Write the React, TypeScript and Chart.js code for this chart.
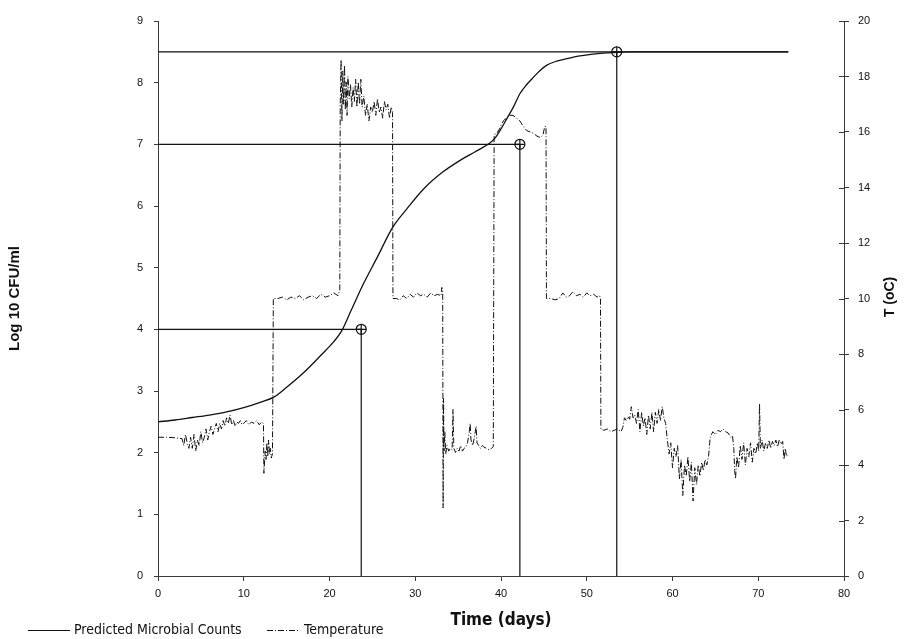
import React, { useEffect, useRef } from 'react';
import { Chart, registerables } from 'chart.js';

Chart.register(...registerables);

// Predicted microbial counts (log10 CFU/ml) vs time (days)
const countDays = [0, 2, 4, 6, 8, 10, 12, 13.5, 15, 17, 19, 20.5, 21.4, 22.5, 24, 25.5, 27.4, 29, 31, 33.2, 35, 37, 38.7, 39.3, 40, 40.7, 41.5, 42.2, 43, 43.8, 44.5, 45.3, 46.5, 47.7, 49, 50.5, 52, 53.5, 55, 56.2, 60, 65, 70, 73.5];
const countLog = [2.5, 2.53, 2.57, 2.61, 2.66, 2.73, 2.82, 2.9, 3.06, 3.3, 3.58, 3.8, 3.97, 4.3, 4.75, 5.15, 5.66, 5.95, 6.28, 6.55, 6.72, 6.88, 7.02, 7.1, 7.25, 7.42, 7.62, 7.82, 7.97, 8.09, 8.19, 8.28, 8.35, 8.39, 8.43, 8.46, 8.48, 8.49, 8.5, 8.5, 8.5, 8.5, 8.5, 8.5];

// Temperature record (oC) vs time (days)
const tempDays = [
  0, 1, 2, 2.8, 3.0, 3.2, 3.4, 3.6, 3.8, 4.0, 4.2, 4.4, 4.6, 4.8, 5.0, 5.2, 5.4, 5.6, 5.8, 6.0, 6.2, 6.4, 6.6, 6.8, 7.0, 7.2, 7.4, 7.6, 7.8, 8.0, 8.2, 8.4, 8.6, 8.8, 9.0, 9.2, 9.4, 9.6, 9.8, 10.0, 10.3, 10.6, 10.9, 11.2, 11.5, 11.8, 12.1, 12.3, 12.35, 12.5, 12.6, 12.7, 12.8, 12.9, 13.0, 13.1, 13.2, 13.35, 13.45,
  14, 14.5, 15, 15.5, 16, 16.5, 17, 17.5, 18, 18.5, 19, 19.5, 20, 20.5, 21.0, 21.2,
  21.25, 21.35, 21.45, 21.55, 21.65, 21.75, 21.85, 21.95, 22.05, 22.15, 22.3, 22.45, 22.6, 22.75, 22.9, 23.05, 23.2, 23.35, 23.5, 23.65, 23.8, 24.0, 24.2, 24.4, 24.6, 24.8, 25.0, 25.2, 25.4, 25.6, 25.8, 26.0, 26.2, 26.4, 26.6, 26.8, 27.0, 27.2, 27.35, 27.4,
  27.8, 28.2, 28.6, 29.0, 29.4, 29.8, 30.2, 30.6, 31.0, 31.4, 31.8, 32.2, 32.6, 33.0, 33.1, 33.2,
  33.25, 33.3, 33.35, 33.45, 33.55, 33.7, 33.9, 34.1, 34.3, 34.4, 34.5, 34.7, 34.9, 35.1, 35.3, 35.5, 35.7, 35.9, 36.1, 36.3, 36.4, 36.5, 36.7, 36.9, 37.1, 37.2, 37.4, 37.6, 37.8, 38.0, 38.3, 38.6, 38.9, 39.1,
  39.2, 39.5, 39.8, 40.1, 40.4, 40.7, 41.0, 41.4, 41.8, 42.2, 42.6, 43.0, 43.4, 43.8, 44.2, 44.6, 44.9, 45.1, 45.25, 45.3,
  45.8, 46.3, 46.8, 47.2, 47.6, 48.0, 48.4, 48.8, 49.2, 49.6, 50.0, 50.4, 50.8, 51.2, 51.5, 51.6,
  51.65, 52.0, 52.4, 52.8, 53.2, 53.6, 54.0, 54.2, 54.4, 54.6, 54.8, 55.0, 55.2, 55.4, 55.6, 55.8, 56.0, 56.2, 56.4, 56.6, 56.8, 57.0, 57.2, 57.4, 57.6, 57.8, 58.0, 58.2, 58.4, 58.6, 58.8, 59.0, 59.2, 59.4, 59.6, 59.8,
  60.0, 60.2, 60.4, 60.6, 60.8, 61.0, 61.2, 61.4, 61.6, 61.8, 62.0, 62.2, 62.4, 62.6, 62.8, 63.0, 63.2, 63.4, 63.6, 63.8, 64.0, 64.2, 64.4, 64.7, 65.0, 65.3, 65.6, 65.9, 66.2, 66.5, 66.8, 67.0,
  67.15, 67.25, 67.35, 67.5, 67.7, 67.9, 68.1, 68.3, 68.5, 68.7, 68.9, 69.1, 69.3, 69.5, 69.7, 69.9, 70.05, 70.15, 70.25, 70.45, 70.65, 70.85, 71.05, 71.25, 71.45, 71.65, 71.85, 72.05, 72.25, 72.45, 72.65, 72.85, 73.0, 73.15, 73.3, 73.45,
];
const tempC = [
  5.0, 5.0, 4.98, 4.95, 4.7, 5.1, 4.8, 4.6, 5.0, 4.6, 5.1, 4.5, 4.9, 4.7, 5.2, 4.8, 5.0, 5.3, 4.9, 5.2, 5.4, 5.1, 5.3, 5.5, 5.2, 5.5, 5.3, 5.6, 5.4, 5.7, 5.5, 5.8, 5.45, 5.6, 5.4, 5.55, 5.5, 5.6, 5.45, 5.5, 5.6, 5.45, 5.55, 5.5, 5.6, 5.45, 5.55, 5.5, 3.7, 4.5, 4.2, 4.8, 4.3, 4.9, 4.4, 4.6, 4.25, 4.4, 10.0,
  10.0, 10.05, 9.95, 10.05, 10.0, 10.1, 9.95, 10.05, 10.1, 10.0, 10.15, 10.05, 10.1, 10.2, 10.1, 10.3,
  17.0, 18.6, 16.4, 18.2, 17.0, 18.4, 16.8, 17.8, 16.6, 18.0, 17.2, 17.7, 16.9, 17.6, 17.1, 17.9, 16.9, 17.8, 17.0, 17.9, 16.9, 17.3, 16.6, 17.0, 16.4, 16.9, 16.7, 17.1, 16.6, 17.2, 16.7, 16.9, 16.5, 17.1, 16.8, 17.0, 16.5, 16.9, 16.7, 10.0,
  10.0, 9.95, 10.1, 10.0, 10.15, 10.05, 10.2, 10.1, 10.15, 10.05, 10.2, 10.1, 10.15, 10.1, 10.4, 10.2,
  2.45, 6.4, 4.5, 5.2, 4.4, 4.7, 4.5, 4.6, 4.55, 6.0, 4.6, 4.45, 4.6, 4.5, 4.7, 4.5, 4.6, 4.65, 4.8, 5.2, 5.5, 4.9, 4.7, 5.0, 5.4, 4.8, 4.7, 4.6, 4.7, 4.65, 4.6, 4.55, 4.6, 4.66,
  15.9, 15.95, 16.1, 16.3, 16.45, 16.5, 16.6, 16.6, 16.5, 16.4, 16.2, 16.05, 16.0, 15.95, 15.85, 15.8, 15.9, 16.2, 16.2, 10.0,
  10.0, 9.95, 10.0, 10.2, 10.05, 10.1, 10.25, 10.1, 10.15, 10.05, 10.2, 10.1, 10.15, 10.05, 10.1, 10.0,
  5.3, 5.25, 5.3, 5.2, 5.25, 5.3, 5.2, 5.35, 5.7, 5.6, 5.75, 5.65, 6.1, 5.7, 5.8, 5.5, 6.0, 5.2, 5.9, 5.4, 5.7, 5.1, 5.8, 5.3, 5.9, 5.2, 5.9, 5.5, 6.0, 5.6, 6.1, 5.7, 5.5, 4.9, 4.4, 4.8,
  3.9, 4.6, 4.3, 4.7, 3.5, 4.2, 2.9, 4.0, 3.6, 4.3, 3.4, 4.1, 2.7, 3.9, 3.3, 4.0, 3.6, 4.1, 3.8, 4.2, 4.0, 4.3, 5.0, 5.2, 5.1, 5.25, 5.2, 5.3, 5.2, 5.15, 5.0, 5.05,
  4.6, 3.8, 3.5, 4.3, 3.9, 4.7, 4.2, 4.8, 4.0, 4.6, 4.3, 4.8, 4.1, 4.6, 4.4, 4.8, 4.5, 6.2, 4.6, 4.9, 4.5, 4.8, 4.6, 4.9, 4.6, 4.85, 4.7, 4.9, 4.65, 4.9, 4.75, 4.85, 4.2, 4.6, 4.3, 4.4,
];

// Read-off reference points (day, log count) and where their horizontal guide ends
const markerDays = [23.7, 42.2, 53.5];
const markerLog = [4, 7, 8.5];
const guideEndDays = [23.7, 42.2, 73.5];

const xTitle = 'Time (days)';
const yTitle = 'Log 10 CFU/ml';
const y2Title = 'T (oC)';
const seriesNames = ['Predicted Microbial Counts', 'Temperature'];

const AXIS = '#3a3a3a';
const SANS = '"Liberation Sans", Arial, sans-serif';
const TICK_FONT = { family: SANS, size: 11 };
const NARROW = '"DejaVu Sans Condensed", "Liberation Sans Narrow", "Liberation Sans", sans-serif';

const overlayPlugin = {
  id: 'overlay',
  afterDraw(chart: any) {
    const ctx = chart.ctx;
    ctx.save();
    // right axis title, reading bottom-to-top
    ctx.fillStyle = '#111';
    ctx.font = 'bold 14px ' + SANS;
    ctx.textAlign = 'center';
    ctx.textBaseline = 'middle';
    ctx.translate(890, 297);
    ctx.rotate(-Math.PI / 2);
    ctx.fillText(y2Title, 0, 0);
    ctx.restore();

    // inner half of the right-axis tick marks (ticks cross the axis)
    const y2 = chart.scales.y2;
    ctx.save();
    ctx.strokeStyle = AXIS;
    ctx.lineWidth = 1;
    y2.ticks.forEach((t: any) => {
      const py = Math.round(y2.getPixelForValue(t.value)) + 0.5;
      ctx.beginPath();
      ctx.moveTo(y2.left - 5, py);
      ctx.lineTo(y2.left, py);
      ctx.stroke();
    });
    ctx.restore();

    // legend
    ctx.save();
    const items = [
      { ds: chart.data.datasets[0], x0: 28, x1: 70, tx: 74 },
      { ds: chart.data.datasets[1], x0: 267, x1: 299, tx: 304 },
    ];
    const ly = 630;
    ctx.font = '14px ' + NARROW;
    ctx.textBaseline = 'middle';
    ctx.textAlign = 'left';
    items.forEach((it) => {
      ctx.strokeStyle = it.ds.borderColor;
      ctx.lineWidth = 1;
      ctx.setLineDash(it.ds.borderDash || []);
      ctx.beginPath();
      ctx.moveTo(it.x0, ly + 0.5);
      ctx.lineTo(it.x1, ly + 0.5);
      ctx.stroke();
      ctx.setLineDash([]);
      ctx.fillStyle = '#111';
      ctx.fillText(it.ds.label, it.tx, ly);
    });
    ctx.restore();
  },
};

export default function App() {
  const ref = useRef<HTMLCanvasElement | null>(null);

  useEffect(() => {
    if (!ref.current) return;
    const countData = countDays.map((d, i) => ({ x: d, y: countLog[i] }));
    const tempData = tempDays.map((d, i) => ({ x: d, y: tempC[i] }));
    const guideSets = markerDays.map((d, i) => ({
      label: 'guide' + i,
      data: [
        { x: 0, y: markerLog[i] },
        { x: guideEndDays[i], y: markerLog[i] },
        { x: d, y: null },
        { x: d, y: markerLog[i] },
        { x: d, y: 0 },
      ],
      borderColor: '#111',
      borderWidth: 1.2,
      pointRadius: 0,
      spanGaps: false,
      yAxisID: 'y',
      order: 5,
    }));
    const markerPts = markerDays.map((d, i) => ({ x: d, y: markerLog[i] }));

    const chart = new Chart(ref.current, {
      type: 'line',
      data: {
        datasets: [
          {
            label: seriesNames[0],
            data: countData,
            borderColor: '#111',
            borderWidth: 1.3,
            pointRadius: 0,
            cubicInterpolationMode: 'monotone',
            yAxisID: 'y',
            order: 2,
          },
          {
            label: seriesNames[1],
            data: tempData,
            borderColor: '#111',
            borderWidth: 1,
            borderDash: [6, 2, 1, 2],
            pointRadius: 0,
            tension: 0,
            yAxisID: 'y2',
            order: 3,
          },
          ...guideSets,
          {
            label: 'markers',
            data: markerPts,
            showLine: false,
            pointStyle: 'circle',
            pointRadius: 5,
            pointBorderWidth: 1.2,
            pointBorderColor: '#111',
            pointBackgroundColor: 'rgba(255,255,255,0)',
            yAxisID: 'y',
            order: 0,
          },
          {
            label: 'markers-cross',
            data: markerPts,
            showLine: false,
            pointStyle: 'cross',
            pointRadius: 5,
            pointBorderWidth: 1.2,
            pointBorderColor: '#111',
            yAxisID: 'y',
            order: 0,
          },
        ] as any,
      },
      options: {
        animation: false,
        responsive: false,
        maintainAspectRatio: false,
        layout: { padding: { top: 21, left: 0, right: 0, bottom: 0 } },
        plugins: {
          legend: { display: false },
          tooltip: { enabled: false },
        },
        scales: {
          x: {
            type: 'linear',
            min: 0,
            max: 80,
            afterFit: (s: any) => { s.height = 63; },
            ticks: { stepSize: 10, color: '#111', font: TICK_FONT, padding: 6, maxRotation: 0 },
            grid: { drawOnChartArea: false, drawTicks: true, tickLength: 5, color: AXIS },
            border: { display: true, color: AXIS, width: 1 },
            title: {
              display: true,
              text: xTitle,
              color: '#111',
              font: { family: NARROW, size: 17, weight: 'bold' },
              padding: { top: 0, bottom: 8 },
            },
          },
          y: {
            type: 'linear',
            position: 'left',
            min: 0,
            max: 9,
            afterFit: (s: any) => { s.width = 158; },
            ticks: { stepSize: 1, color: '#111', font: TICK_FONT, padding: 11 },
            grid: { drawOnChartArea: false, drawTicks: true, tickLength: 4, color: AXIS },
            border: { display: true, color: AXIS, width: 1 },
            title: {
              display: true,
              text: yTitle,
              color: '#111',
              font: { family: SANS, size: 15, weight: 'bold' },
              padding: { top: 6, bottom: 0 },
            },
          },
          y2: {
            type: 'linear',
            position: 'right',
            min: 0,
            max: 20,
            afterFit: (s: any) => { s.width = 62; },
            ticks: { stepSize: 2, color: '#111', font: TICK_FONT, padding: 9 },
            grid: { drawOnChartArea: false, drawTicks: true, tickLength: 5, color: AXIS },
            border: { display: true, color: AXIS, width: 1 },
          },
        },
      } as any,
      plugins: [overlayPlugin],
    });
    return () => chart.destroy();
  }, []);

  return (
    <div style={{ position: 'fixed', left: 0, top: 0, width: 906, height: 639, background: '#fff' }}>
      <canvas ref={ref} width={906} height={639} style={{ width: 906, height: 639, display: 'block' }} />
    </div>
  );
}
